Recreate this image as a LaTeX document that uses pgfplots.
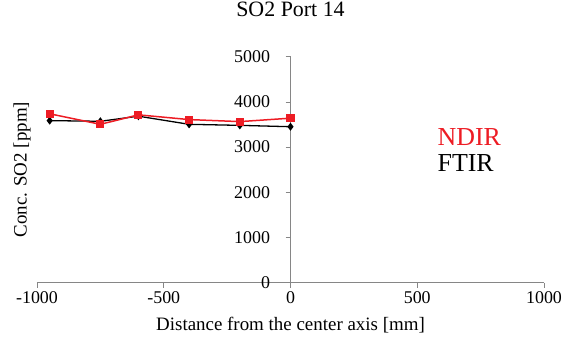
\documentclass[border=0pt]{standalone}
\usepackage{pgfplots}
\pgfplotsset{compat=1.18}
\usepackage{fontspec}
\setmainfont{Liberation Serif}
\definecolor{ndir}{RGB}{237,28,36}
\definecolor{axgray}{RGB}{134,134,134}
\begin{document}
\begin{tikzpicture}
\path[use as bounding box] (-37bp,-64.3bp) rectangle (537bp,282.7bp);
\begin{axis}[
  at={(0,0)}, anchor=south west,
  scale only axis, width=507bp, height=226bp,
  xmin=-1000, xmax=1000, ymin=0, ymax=5000,
  axis lines=center,
  axis line style={axgray, line width=0.8pt, -},
  xtick={-1000,-500,0,500,1000},
  xticklabels={\textrm{-1000},\textrm{-500},\textrm{0},\textrm{500},\textrm{1000}},
  ytick={0,1000,2000,3000,4000,5000},
  yticklabels={\textrm{0},\textrm{1000},\textrm{2000},\textrm{3000},\textrm{4000},\textrm{5000}},
  tick style={axgray, line width=0.8pt},
  tick align=outside,
  major tick length=5bp,
  hide obscured x ticks=false, hide obscured y ticks=false,
  ticklabel style={font=\fontsize{18}{18}\selectfont, text=black},
  yticklabel style={xshift=-12bp},
  title={SO2 Port 14},
  title style={font=\fontsize{22}{22}\selectfont, at={(axis description cs:0.5,1.185)}, anchor=center},
  xlabel={Distance from the center axis [mm]},
  xlabel style={font=\fontsize{19}{19}\selectfont, at={(axis description cs:0.5,-0.187)}, anchor=center},
  ylabel={Conc. SO2 [ppm]},
  ylabel style={font=\fontsize{19}{19}\selectfont, at={(axis description cs:-0.0296,0.5)}, anchor=center, rotate=90},
  legend image code/.code={},
  reverse legend,
  legend style={draw=none, fill=none, at={(axis description cs:0.78,0.70)}, anchor=north west,
    font=\fontsize{26}{28}\selectfont, cells={anchor=west}, row sep=3bp},
]
\addplot[black, line width=1.3pt, mark=diamond*, mark size=3bp, mark options={fill=black}] coordinates {
  (-950,3586) (-750,3571) (-600,3684) (-400,3504) (-200,3481) (0,3451)
};
\addlegendentry{FTIR}
\addplot[ndir, line width=1.5pt, mark=square*, mark size=3.3bp, mark options={fill=ndir}] coordinates {
  (-950,3737) (-750,3504) (-600,3714) (-400,3609) (-200,3564) (0,3640)
};
\addlegendentry{\textcolor{ndir}{NDIR}}
\end{axis}
\end{tikzpicture}
\end{document}
